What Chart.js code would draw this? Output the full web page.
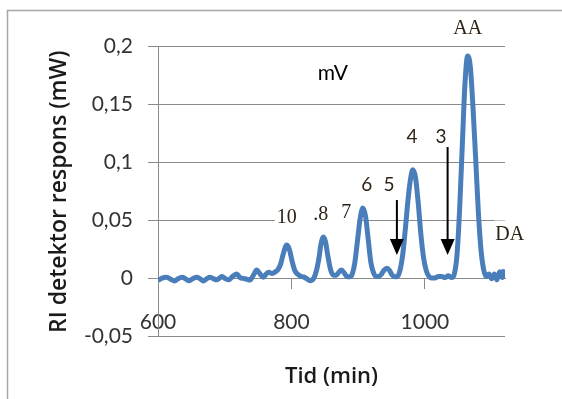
<!DOCTYPE html>
<html>
<head>
<meta charset="utf-8">
<script src="https://cdn.jsdelivr.net/npm/chart.js@4/dist/chart.umd.min.js"></script>
<style>
  html, body { margin: 0; padding: 0; background: #ffffff; }
  #wrap { width: 562px; height: 399px; background: #ffffff; }
</style>
</head>
<body>
<div id="wrap"><canvas id="c" width="562" height="399"></canvas></div>
<script>
const timeMin = [600, 606, 613, 619, 625, 630, 636, 641, 646, 652, 658, 663, 668, 673, 678, 683, 688, 692, 696, 701,
  706, 712, 718, 723, 728, 733, 738, 743, 748, 753, 758, 762, 766, 771, 776, 780, 784, 788, 793, 797,
  801, 805, 809, 814, 818, 823, 828, 833, 837, 841, 844, 848, 851, 855, 859, 863, 867, 871, 875, 879,
  883, 887, 891, 895, 899, 903, 907, 911, 915, 919, 923, 927, 931, 935, 939, 943, 947, 951, 955, 959,
  963, 967, 971, 975, 979, 982, 986, 990, 994, 998, 1002, 1006, 1010, 1015, 1020, 1025, 1030, 1035, 1040, 1044,
  1048, 1052, 1056, 1060, 1064, 1068, 1072, 1076, 1080, 1084, 1088, 1092, 1096, 1100, 1104, 1108, 1112, 1116, 1119];
const riResponse = [-0.0015, 0.0005, 0.0012, -0.0005, -0.002, 0.0, 0.0012, 0.0, -0.0018, 0.0, 0.0012, 0.0, -0.002, 0.0, 0.0012, 0.0, -0.001, 0.0005, 0.0018, 0.0,
  -0.001, 0.002, 0.004, 0.001, 0.0003, -0.0005, -0.0011, 0.003, 0.0075, 0.004, 0.0012, 0.004, 0.0055, 0.0045, 0.006, 0.008, 0.013, 0.022, 0.029, 0.025,
  0.015, 0.007, 0.004, 0.002, 0.0015, 0.0, -0.0017, 0.0, 0.006, 0.017, 0.029, 0.036, 0.032, 0.018, 0.007, 0.003, 0.003, 0.0055, 0.0075, 0.005,
  0.002, 0.0017, 0.004, 0.014, 0.033, 0.052, 0.061, 0.054, 0.034, 0.014, 0.005, 0.002, 0.002, 0.004, 0.0075, 0.009, 0.007, 0.003, 0.0017, 0.002,
  0.008, 0.022, 0.045, 0.07, 0.088, 0.094, 0.087, 0.065, 0.038, 0.018, 0.007, 0.002, 0.0005, 0.0005, 0.002, 0.002, 0.001, 0.0025, 0.001, 0.004,
  0.02, 0.06, 0.115, 0.168, 0.192, 0.183, 0.148, 0.104, 0.058, 0.025, 0.008, 0.002, 0.004, 0.0, 0.004, -0.001, 0.006, 0.001, 0.008];

const xTicks = [600, 800, 1000];
const xTickLabels = ['600', '800', '1000'];
const yTicks = [-0.05, 0, 0.05, 0.1, 0.15, 0.2];
const yTickLabels = ['-0,05', '0', '0,05', '0,1', '0,15', '0,2'];

const chartTitle = 'mV';
const titleAt = [862, 0.1773];
const xAxisTitle = 'Tid (min)';
const yAxisTitle = 'RI detektor respons (mW)';

const peakLabels = ['AA', '4', '3', '6', '5', '10', '.8', '7', 'DA'];
const peakLabelX = [1064, 980.5, 1024, 913, 946, 793, 844, 882, 1127];
const peakLabelY = [0.2157, 0.1221, 0.1221, 0.0808, 0.0808, 0.0523, 0.0549, 0.0566, 0.0381];

const arrowX = [958, 1034];
const arrowFrom = [0.0678, 0.1135];
const arrowTo = [0.0204, 0.0204];

const labelStyle = {
  'AA': { font: '20px "Liberation Serif"', box: [12, 12] },
  '4':  { font: '19px Lato' },
  '3':  { font: '19px Lato' },
  '6':  { font: '19px Lato' },
  '5':  { font: '19px Lato' },
  '10': { font: '20px "Liberation Serif"', box: [2, 10] },
  '.8': { font: '20px "Liberation Serif"', box: [9, 8] },
  '7':  { font: '20px "Liberation Serif"', box: [9, 6] },
  'DA': { font: '20px "Liberation Serif"', box: [1, 4] }
};
const labelColor = '#2e2415';
const gridColor = '#8a8a8a';

const annotations = {
  id: 'annotations',
  beforeDatasetsDraw(chart) {
    const ctx = chart.ctx;
    const xs = chart.scales.x, ys = chart.scales.y;
    ctx.save();
    ctx.textBaseline = 'middle';
    ctx.textAlign = 'center';
    peakLabels.forEach((t, i) => {
      const st = labelStyle[t];
      const px = xs.getPixelForValue(peakLabelX[i]);
      const py = ys.getPixelForValue(peakLabelY[i]);
      ctx.font = st.font;
      if (st.box) {
        const w = ctx.measureText(t).width;
        ctx.fillStyle = '#ffffff';
        ctx.fillRect(px - w / 2 - st.box[0], py - 14, w + st.box[0] + st.box[1], 28);
      }
    });
    peakLabels.forEach((t, i) => {
      const st = labelStyle[t];
      const px = xs.getPixelForValue(peakLabelX[i]);
      const py = ys.getPixelForValue(peakLabelY[i]);
      ctx.font = st.font;
      ctx.fillStyle = labelColor;
      ctx.fillText(t, px, py);
    });
    ctx.font = '21px Lato';
    ctx.fillStyle = '#000000';
    ctx.fillText(chartTitle, xs.getPixelForValue(titleAt[0]), ys.getPixelForValue(titleAt[1]));
    ctx.restore();
  },
  afterDatasetsDraw(chart) {
    const ctx = chart.ctx;
    const xs = chart.scales.x, ys = chart.scales.y;
    ctx.save();
    ctx.strokeStyle = '#000000';
    ctx.fillStyle = '#000000';
    ctx.lineWidth = 2;
    arrowX.forEach((v, i) => {
      const px = xs.getPixelForValue(v);
      const y1 = ys.getPixelForValue(arrowFrom[i]);
      const y2 = ys.getPixelForValue(arrowTo[i]);
      ctx.beginPath();
      ctx.moveTo(px, y1);
      ctx.lineTo(px, y2 - 12);
      ctx.stroke();
      ctx.beginPath();
      ctx.moveTo(px - 7, y2 - 16);
      ctx.lineTo(px + 7, y2 - 16);
      ctx.lineTo(px, y2);
      ctx.closePath();
      ctx.fill();
    });
    ctx.restore();
  },
  afterDraw(chart) {
    const ctx = chart.ctx;
    ctx.save();
    ctx.strokeStyle = '#a6a6a6';
    ctx.lineWidth = 1.5;
    ctx.beginPath();
    ctx.moveTo(7.5, chart.height);
    ctx.lineTo(7.5, 10.5);
    ctx.lineTo(chart.width, 10.5);
    ctx.stroke();
    ctx.restore();
  }
};

new Chart(document.getElementById('c'), {
  type: 'line',
  data: {
    datasets: [{
      data: timeMin.map((t, i) => ({ x: t, y: riResponse[i] })),
      borderColor: '#4a7ebb',
      borderWidth: 5,
      pointRadius: 0,
      cubicInterpolationMode: 'monotone',
      fill: false
    }]
  },
  options: {
    responsive: false,
    devicePixelRatio: 1,
    animation: false,
    layout: { padding: { left: 30, top: 46.7, right: 57, bottom: 62.3 } },
    plugins: { legend: { display: false }, tooltip: { enabled: false }, title: { display: false } },
    scales: {
      x: {
        type: 'linear',
        position: { y: 0 },
        min: 600,
        max: 1120,
        afterBuildTicks(scale) { scale.ticks = xTicks.map(v => ({ value: v })); },
        ticks: {
          autoSkip: false,
          maxRotation: 0,
          padding: 21,
          color: '#333333',
          font: { family: 'Lato', size: 21 },
          callback: (v, i) => xTickLabels[i]
        },
        grid: { drawOnChartArea: false, drawTicks: true, tickLength: 10, color: gridColor },
        border: { display: true, color: gridColor, width: 1 },
        title: {
          display: true,
          text: xAxisTitle,
          color: '#1a1a1a',
          font: { family: 'Open Sans', size: 22, weight: '600' },
          padding: { top: 8, bottom: 4 }
        }
      },
      y: {
        type: 'linear',
        min: -0.05,
        max: 0.2,
        afterBuildTicks(scale) { scale.ticks = yTicks.map(v => ({ value: v })); },
        afterFit(scale) { scale.width = 128; },
        ticks: {
          padding: 15,
          color: '#333333',
          font: { family: 'Lato', size: 21 },
          callback: (v, i) => yTickLabels[i]
        },
        grid: { drawTicks: true, tickLength: 10, color: gridColor, lineWidth: 1 },
        border: { display: true, color: gridColor, width: 1 },
        title: {
          display: true,
          text: yAxisTitle,
          color: '#1a1a1a',
          font: { family: 'Open Sans', size: 23, weight: '600' },
          padding: { top: 16, bottom: 4 }
        }
      }
    }
  },
  plugins: [annotations]
});
</script>
</body>
</html>
